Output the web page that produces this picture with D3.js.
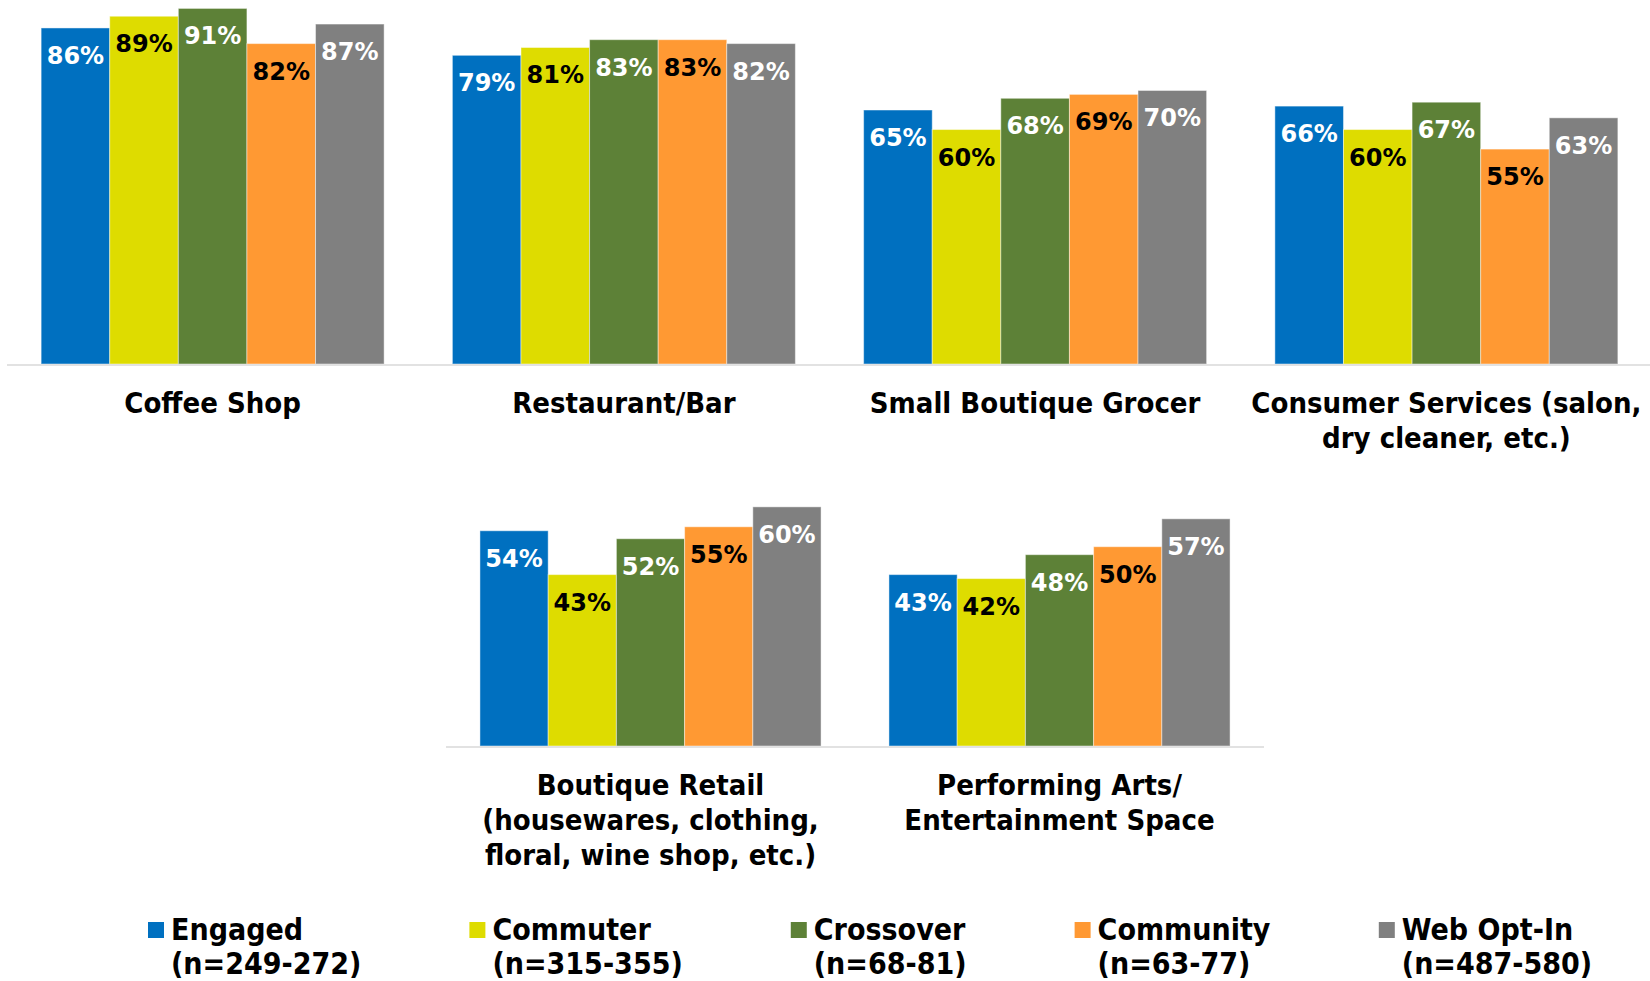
<!DOCTYPE html>
<html>
<head>
<meta charset="utf-8">
<script src="https://cdn.jsdelivr.net/npm/d3@7"></script>
<style>
  html, body { margin: 0; padding: 0; background: #fff; }
  svg { display: block; }
  .cat, .leg { font-family: "DejaVu Sans Condensed", "DejaVu Sans", sans-serif; font-stretch: condensed; font-weight: bold; }
  .val { font-family: "DejaVu Sans", sans-serif; font-weight: bold; }
</style>
</head>
<body>
<script>
// Segments and their sample sizes
const series = ["Engaged", "Commuter", "Crossover", "Community", "Web Opt-In"];
const sampleSizes = ["(n=249-272)", "(n=315-355)", "(n=68-81)", "(n=63-77)", "(n=487-580)"];
const colors = ["#0070C0", "#DEDC00", "#5D8137", "#FF9933", "#808080"];
const labelColors = ["#ffffff", "#000000", "#ffffff", "#000000", "#ffffff"];

// Upper chart: venue types (label lines) and percent by segment
const topCategories = [
  ["Coffee Shop"],
  ["Restaurant/Bar"],
  ["Small Boutique Grocer"],
  ["Consumer Services (salon,", "dry cleaner, etc.)"]
];
const topEngaged   = [86, 79, 65, 66];
const topCommuter  = [89, 81, 60, 60];
const topCrossover = [91, 83, 68, 67];
const topCommunity = [82, 83, 69, 55];
const topWebOptIn  = [87, 82, 70, 63];

// Lower chart
const bottomCategories = [
  ["Boutique Retail", "(housewares, clothing,", "floral, wine shop, etc.)"],
  ["Performing Arts/", "Entertainment Space"]
];
const bottomEngaged   = [54, 43];
const bottomCommuter  = [43, 42];
const bottomCrossover = [52, 48];
const bottomCommunity = [55, 50];
const bottomWebOptIn  = [60, 57];

const W = 1650, H = 981;
const svg = d3.select("body").append("svg").attr("width", W).attr("height", H);

function drawPanel(cfg) {
  const { categories, values, x0, x1, yBase, yTop, yMax } = cfg;
  const g = svg.append("g");

  const x = d3.scaleBand()
    .domain(d3.range(categories.length))
    .range([x0, x1])
    .paddingInner(0.166)
    .paddingOuter(0.083);
  const xs = d3.scaleBand()
    .domain(d3.range(series.length))
    .range([0, x.bandwidth()]);
  const y = d3.scaleLinear().domain([0, yMax]).range([yBase, yTop]);

  const rows = categories.map((c, i) => ({
    i,
    vals: values.map((arr, s) => ({ s, v: arr[i] }))
  }));

  const grp = g.selectAll("g.grp").data(rows).join("g")
    .attr("class", "grp")
    .attr("transform", d => `translate(${x(d.i)},0)`);

  grp.selectAll("rect").data(d => d.vals).join("rect")
    .attr("x", d => xs(d.s))
    .attr("width", xs.bandwidth())
    .attr("y", d => y(d.v))
    .attr("height", d => y(0) - y(d.v))
    .attr("fill", d => colors[d.s])
    .attr("stroke", "rgba(255,255,255,0.45)")
    .attr("stroke-width", 1);

  grp.selectAll("text.val").data(d => d.vals).join("text")
    .attr("class", "val")
    .attr("x", d => xs(d.s) + xs.bandwidth() / 2)
    .attr("y", d => y(d.v) + 36)
    .attr("text-anchor", "middle")
    .attr("font-size", 24)
    .attr("fill", d => labelColors[d.s])
    .text(d => d.v + "%");

  // category axis line
  g.append("line")
    .attr("x1", x0).attr("x2", x1)
    .attr("y1", yBase + 1).attr("y2", yBase + 1)
    .attr("stroke", "#d9d9d9").attr("stroke-width", 1.5);

  // category labels
  const lab = g.selectAll("text.cat").data(rows).join("text")
    .attr("class", "cat")
    .attr("text-anchor", "middle")
    .attr("font-size", 29)
    .attr("fill", "#000");
  lab.selectAll("tspan").data(d => categories[d.i].map(t => ({ t, cx: x(d.i) + x.bandwidth() / 2 })))
    .join("tspan")
    .attr("x", d => d.cx)
    .attr("y", (d, k) => yBase + 49 + k * 35)
    .text(d => d.t);
}

drawPanel({
  categories: topCategories,
  values: [topEngaged, topCommuter, topCrossover, topCommunity, topWebOptIn],
  x0: 7, x1: 1652, yBase: 364, yTop: 1, yMax: 92.9
});

drawPanel({
  categories: bottomCategories,
  values: [bottomEngaged, bottomCommuter, bottomCrossover, bottomCommunity, bottomWebOptIn],
  x0: 446, x1: 1264, yBase: 746, yTop: 467, yMax: 70
});

// Legend: square + two-line label, items laid out left to right
const legend = svg.append("g");
let lx = 148;
series.forEach((name, i) => {
  const item = legend.append("g").attr("transform", `translate(${lx},0)`);
  item.append("rect").attr("x", 0).attr("y", 922).attr("width", 16).attr("height", 16)
    .attr("fill", colors[i]);
  const t = item.append("text").attr("class", "leg").attr("font-size", 30).attr("fill", "#000");
  t.append("tspan").attr("x", 23).attr("y", 940).text(name);
  t.append("tspan").attr("x", 23).attr("y", 974).text(sampleSizes[i]);
  const w = t.node().getBBox().width;
  lx += 23 + w + 108;
});
</script>
</body>
</html>
